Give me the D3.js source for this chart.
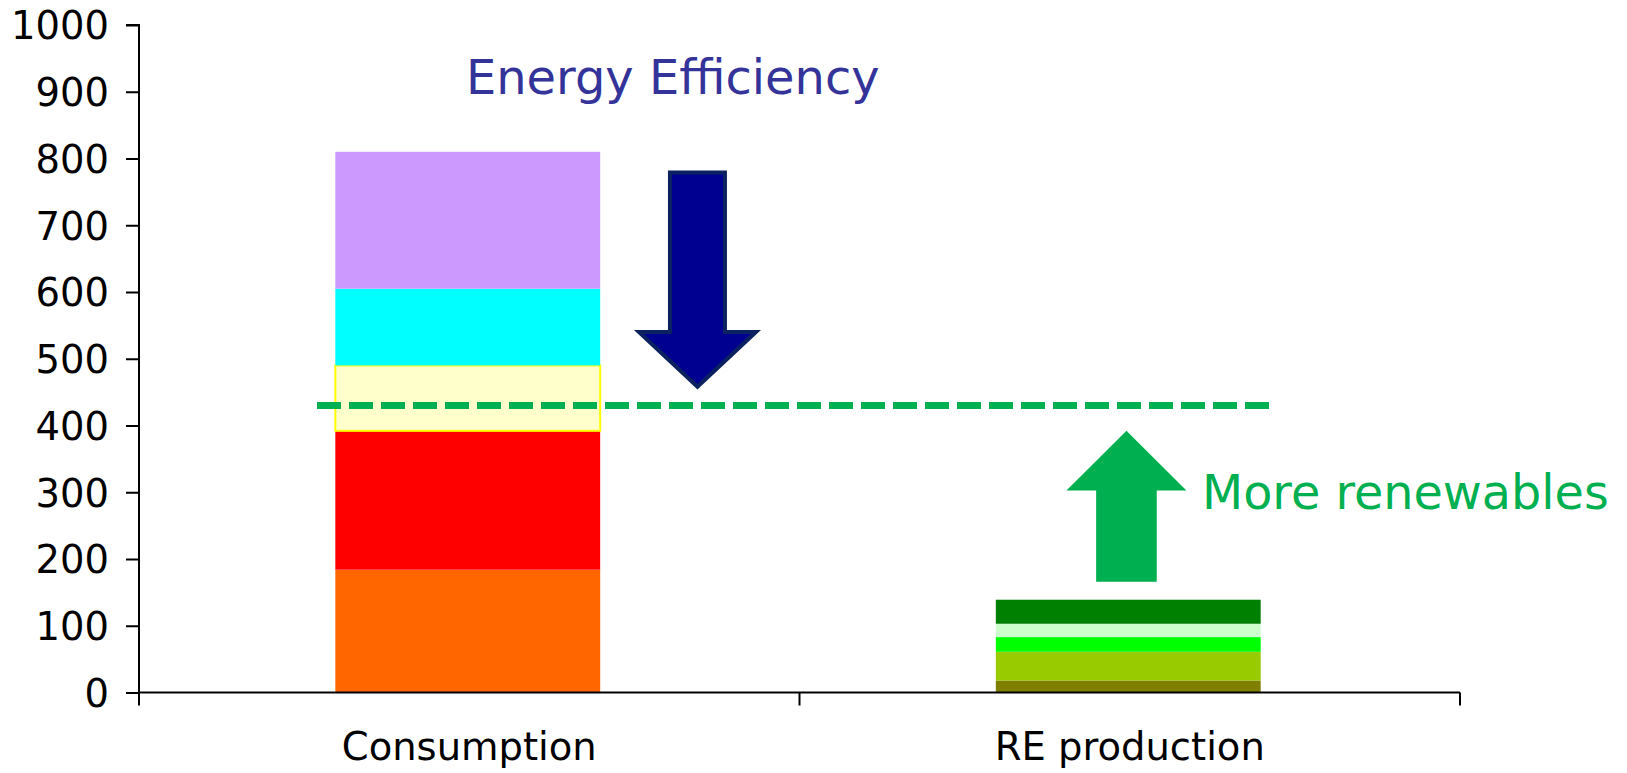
<!DOCTYPE html>
<html>
<head>
<meta charset="utf-8">
<script src="https://cdn.jsdelivr.net/npm/d3@7"></script>
<style>
  body { margin: 0; background: #fff; }
  svg { display: block; font-family: "DejaVu Sans", Verdana, sans-serif; }
</style>
</head>
<body>
<svg id="chart" width="1627" height="773"></svg>
<script>
// categories and stacked segments (bottom to top)
const categories = ["Consumption", "RE production"];
const consumptionValues = [184, 208, 98, 115, 205];
const consumptionColors = ["#FF6600", "#FF0000", "#FFFFCC", "#00FFFF", "#CC99FF"];
const productionValues = [18, 43, 22, 20, 36];
const productionColors = ["#808000", "#99CC00", "#00FF00", "#CCFFCC", "#008000"];
const yTicks = [0, 100, 200, 300, 400, 500, 600, 700, 800, 900, 1000];
const targetLevel = 430;

const svg = d3.select("#chart");
const mLeft = 139, mRight = 1460, mTop = 25, mBottom = 692.5;

const y = d3.scaleLinear().domain([0, 1000]).range([mBottom, mTop]);
const x = d3.scaleBand().domain(categories).range([mLeft, mRight]).padding(0);
const xc = d3.scaleLinear().domain([0, 2]).range([mLeft, mRight]); // for annotations

// build stacks
function stack(vals, cols, cat) {
  let acc = 0;
  return vals.map((v, i) => {
    const d = { cat: cat, y0: acc, y1: acc + v, color: cols[i] };
    acc += v;
    return d;
  });
}
const segs = stack(consumptionValues, consumptionColors, categories[0])
  .concat(stack(productionValues, productionColors, categories[1]));

const barW = x.bandwidth() * 0.401;
svg.append("g").selectAll("rect")
  .data(segs)
  .join("rect")
  .attr("x", d => x(d.cat) + (x.bandwidth() - barW) / 2 - 1.5)
  .attr("width", barW)
  .attr("y", d => y(d.y1))
  .attr("height", d => y(d.y0) - y(d.y1))
  .attr("fill", d => d.color)
  .attr("stroke", d => d.color === "#FFFFCC" ? "#FFFF00" : "none")
  .attr("stroke-width", 2);

// axes
const yAxis = svg.append("g")
  .attr("transform", `translate(${mLeft},0)`)
  .call(d3.axisLeft(y).tickValues(yTicks).tickSize(13).tickPadding(17).tickFormat(d3.format("d")));
const xAxis = svg.append("g")
  .attr("transform", `translate(0,${mBottom})`)
  .call(d3.axisBottom(x).tickSize(0).tickPadding(40));
xAxis.selectAll(".tick line").remove();
xAxis.selectAll("line.tk").data([mLeft, mLeft + x.step(), mRight]).join("line")
  .attr("class", "tk")
  .attr("x1", d => d).attr("x2", d => d).attr("y1", 0).attr("y2", 13)
  .attr("stroke", "#000").attr("stroke-width", 2);

[yAxis, xAxis].forEach(a => {
  a.select(".domain").attr("stroke", "#000").attr("stroke-width", 2);
  a.selectAll(".tick line").attr("stroke", "#000").attr("stroke-width", 2);
  a.selectAll("text").attr("font-size", 38.5).attr("fill", "#000")
    .attr("font-family", '"DejaVu Sans", Verdana, sans-serif');
});
yAxis.select(".domain").attr("d", `M-13,${mTop}H0V${mBottom}`);
yAxis.selectAll(".tick text").attr("dy", "0.36em");
xAxis.select(".domain").attr("d", `M${mLeft},0H${mRight}`);
xAxis.selectAll(".tick text").attr("dy", "0.71em");

// target dashed line
svg.append("line")
  .attr("x1", xc(0.2695)).attr("x2", xc(1.711))
  .attr("y1", y(targetLevel)).attr("y2", y(targetLevel))
  .attr("stroke", "#00B050").attr("stroke-width", 7)
  .attr("stroke-dasharray", "24,8");

// arrows
function arrowPath(cx, halfShaft, halfHead, yEnd, yHead, yTip) {
  return `M${cx - halfShaft},${yEnd}L${cx + halfShaft},${yEnd}L${cx + halfShaft},${yHead}` +
    `L${cx + halfHead},${yHead}L${cx},${yTip}L${cx - halfHead},${yHead}L${cx - halfShaft},${yHead}Z`;
}
const downX = xc(0.8455);
svg.append("path")
  .attr("d", arrowPath(downX, 27.5, 58.5, y(779), y(540), y(458)))
  .attr("fill", "#000090").attr("stroke", "#0B2160").attr("stroke-width", 4)
  .attr("stroke-linejoin", "miter");
const upX = xc(1.495);
svg.append("path")
  .attr("d", arrowPath(upX, 30.3, 60, y(166), y(302.5), y(392)))
  .attr("fill", "#00B050");

// annotation text
svg.append("text").attr("x", 466).attr("y", 94).attr("font-size", 47.9)
  .attr("fill", "#333399").text("Energy Efficiency");
svg.append("text").attr("x", 1202).attr("y", 509).attr("font-size", 47.7)
  .attr("fill", "#00B050").text("More renewables");
</script>
</body>
</html>
